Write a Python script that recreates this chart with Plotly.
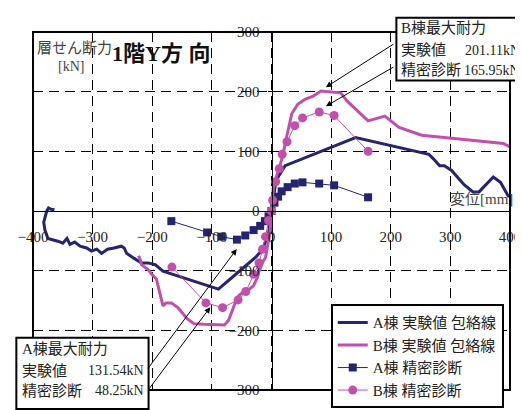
import plotly.graph_objects as go

# ---------------- data ----------------
a_exp_x = [-364, -370, -374, -377, -382, -380, -375, -367, -357, -350, -343, -338, -330, -321, -310,
           -302, -293, -285, -275, -264, -252, -247, -243, -231, -218, -207, -195, -182, -89, -54,
           -26, -15, -5, 0, 6, 11, 20, 23, 141, 264, 272, 282, 290, 302, 323, 338, 348, 372, 384, 397, 405]
a_exp_y = [2, 3, 5, 0, -19, -32, -46, -48, -51, -54, -46, -56, -52, -59, -62,
           -67, -64, -71, -64, -62, -59, -62, -71, -79, -87, -87, -90, -101, -131, -101,
           -77, -64, -38, -5, 41, 57, 71, 76, 123, 95, 87, 76, 76, 68, 44, 32, 32, 57, 48, 25, 25]

b_exp_x = [-223, -220, -218, -207, -201, -193, -182, -177, -168, -157, -141, -130, -113, -79, -72,
           -67, -64, -59, -54, -43, -37, -30, -23, -21, -18, -15, -10, -7, -2, 0,
           3, 10, 18, 26, 34, 44, 56, 69, 83, 116, 127, 162, 190, 214, 252, 302, 356, 389, 405]
b_exp_y = [-75, -82, -90, -98, -106, -114, -159, -154, -154, -162, -181, -189, -190, -191, -183,
           -170, -159, -149, -141, -133, -131, -125, -110, -101, -94, -86, -78, -59, -32, 0,
           41, 63, 89, 127, 163, 179, 187, 192, 201, 198, 184, 151, 159, 140, 127, 122, 116, 113, 105]

a_diag_x = [-168, -108, -84, -58, -44, -30, -19, -11, -5, 0, 5, 11, 17, 27, 39, 52, 80, 105, 162]
a_diag_y = [-17, -36, -43, -48, -41, -32, -25, -17, -9, 0, 14, 24, 33, 40, 46, 48, 46, 43, 23]

b_diag_x = [-167, -110, -82, -56, -43, -30, -21, -15, -10, -5, 0, 2, 7, 13, 18, 26, 39, 52, 80, 105, 162]
b_diag_y = [-94, -154, -162, -149, -135, -106, -87, -64, -43, -16, 0, 18, 49, 71, 95, 116, 143, 156, 166, 160, 100]

x_ticks = [-400, -300, -200, -100, 0, 100, 200, 300, 400]
y_ticks = [-300, -200, -100, 0, 100, 200, 300]

names = ["A棟 実験値 包絡線", "B棟 実験値 包絡線", "A棟 精密診断", "B棟 精密診断"]

NAVY = "#25256F"
MAG = "#C24FA9"
FONT = "Liberation Serif, Noto Sans CJK JP, serif"

W, H = 523, 410
L, R, T, B = 22, 14, 24, 10
PW, PH = W - L - R, H - T - B


def px(x):
    return (x - L) / PW


def py(y):
    return (H - B - y) / PH


fig = go.Figure()
fig.add_trace(go.Scatter(x=a_exp_x, y=a_exp_y, mode="lines", name=names[0],
                         line=dict(color=NAVY, width=3)))
fig.add_trace(go.Scatter(x=b_exp_x, y=b_exp_y, mode="lines", name=names[1],
                         line=dict(color=MAG, width=3)))
fig.add_trace(go.Scatter(x=a_diag_x, y=a_diag_y, mode="lines+markers", name=names[2],
                         line=dict(color=NAVY, width=1),
                         marker=dict(symbol="square", size=8, color=NAVY)))
fig.add_trace(go.Scatter(x=b_diag_x, y=b_diag_y, mode="lines+markers", name=names[3],
                         line=dict(color=MAG, width=1),
                         marker=dict(symbol="circle", size=9, color=MAG)))

axis_common = dict(showgrid=True, gridcolor="black", gridwidth=1, griddash="10px,6px",
                   zeroline=False, showline=True, linecolor="black", linewidth=1,
                   ticks="outside", ticklen=4, tickcolor="black",
                   tickfont=dict(family=FONT, size=15, color="#222"), anchor="free", position=0.5)

fig.update_xaxes(range=[-400, 400], tickvals=x_ticks, ticklabelstandoff=8, **axis_common)
fig.update_yaxes(range=[-300, 300], tickvals=y_ticks, ticklabelstandoff=5, **axis_common)

shapes = [
    dict(type="rect", xref="paper", yref="paper", x0=0, x1=1, y0=0, y1=1,
         line=dict(color="black", width=2), layer="above"),
    # callout boxes
    dict(type="rect", xref="paper", yref="paper", x0=px(393), x1=px(530), y0=py(75), y1=py(9),
         line=dict(color="black", width=2), fillcolor="white", layer="above"),
    dict(type="rect", xref="paper", yref="paper", x0=px(5), x1=px(140), y0=py(420), y1=py(345),
         line=dict(color="black", width=2), fillcolor="white", layer="above"),
]

annotations = []


def txt(t, x, y, size=15, anchor="left", color="#222", bold=False):
    if bold:
        t = "<b>" + t + "</b>"
    annotations.append(dict(text=t, xref="paper", yref="paper", x=px(x), y=py(y),
                            xanchor=anchor, yanchor="middle", showarrow=False,
                            font=dict(family=FONT, size=size, color=color)))


txt("層せん断力", 24, 41, size=15, color="#444")
txt("[kN]", 76, 60, size=14, anchor="right", color="#444")
txt("1階Y方 向", 101, 47, size=22, color="#111", bold=True)
txt("変位[mm]", 514, 199, size=15, anchor="right", color="#444")

# B callout text
txt("B棟最大耐力", 396, 20)
txt("実験値", 396, 43)
txt("201.11kN", 521, 43, anchor="right", size=14)
txt("精密診断", 396, 64)
txt("165.95kN", 521, 64, anchor="right", size=14)
# A callout text
txt("A棟最大耐力", 9, 357)
txt("実験値", 9, 380)
txt("131.54kN", 137, 380, anchor="right", size=14)
txt("精密診断", 9, 401)
txt("48.25kN", 137, 401, anchor="right", size=14)


def arrow(hx, hy, tx, ty):
    annotations.append(dict(text="", xref="paper", yref="paper",
                            x=px(hx), y=py(hy), ax=tx - hx, ay=ty - hy, showarrow=True,
                            arrowhead=2, arrowsize=1.2, arrowwidth=1, arrowcolor="black",
                            standoff=0, startstandoff=0))


arrow(321, 82, 390, 38)
arrow(321, 102, 390, 62)
arrow(230, 252, 140, 373)
arrow(203, 313, 140, 397)

fig.update_layout(
    width=W, height=H, margin=dict(l=L, r=R, t=T, b=B),
    paper_bgcolor="white", plot_bgcolor="white",
    shapes=shapes, annotations=annotations,
    legend=dict(x=px(326), y=py(310), xanchor="left", yanchor="top",
                bgcolor="white", bordercolor="black", borderwidth=2,
                font=dict(family=FONT, size=15, color="#222"),
                tracegroupgap=0, itemwidth=30),
    showlegend=True,
)

fig.write_html("out.html")
